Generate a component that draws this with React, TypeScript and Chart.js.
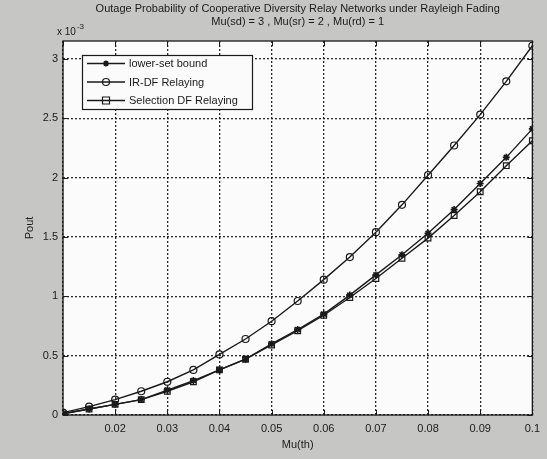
import React, { useEffect, useRef } from 'react';
import { Chart, registerables } from 'chart.js';

Chart.register(...registerables);

// ---- data (Pout in units of 1e-3) ----
const muTh = [0.01, 0.015, 0.02, 0.025, 0.03, 0.035, 0.04, 0.045, 0.05, 0.055, 0.06, 0.065, 0.07, 0.075, 0.08, 0.085, 0.09, 0.095, 0.1];
const lowerBound = [0.01, 0.05, 0.09, 0.13, 0.21, 0.29, 0.38, 0.47, 0.6, 0.72, 0.85, 1.01, 1.18, 1.35, 1.53, 1.73, 1.95, 2.17, 2.41];
const irDF = [0.02, 0.07, 0.13, 0.2, 0.28, 0.38, 0.51, 0.64, 0.79, 0.96, 1.14, 1.33, 1.54, 1.77, 2.02, 2.27, 2.53, 2.81, 3.11];
const selectionDF = [0.01, 0.05, 0.09, 0.13, 0.2, 0.28, 0.38, 0.47, 0.59, 0.71, 0.84, 0.99, 1.15, 1.32, 1.49, 1.68, 1.88, 2.1, 2.31];
const seriesNames = ['lower-set bound', 'IR-DF Relaying', 'Selection DF Relaying'];
const xTickValues = [0.01, 0.02, 0.03, 0.04, 0.05, 0.06, 0.07, 0.08, 0.09, 0.1];
const yTickValues = [0, 0.5, 1, 1.5, 2, 2.5, 3];
const titleText = 'Outage Probability of Cooperative Diversity Relay Networks under Rayleigh Fading';
const subtitleText = 'Mu(sd) = 3 , Mu(sr) = 2 , Mu(rd) = 1';
const xTitle = 'Mu(th)';
const yTitle = 'Pout';
const expBase = 'x 10';
const expPower = '-3';

const FONT = "'Liberation Sans', Arial, sans-serif";
const INK = '#1a1a1a';

function drawMarker(ctx: CanvasRenderingContext2D, style: string, x: number, y: number, r: number) {
  ctx.save();
  ctx.strokeStyle = INK;
  ctx.lineWidth = 1.2;
  ctx.beginPath();
  if (style === 'circle') {
    ctx.arc(x, y, r, 0, Math.PI * 2);
    ctx.stroke();
  } else if (style === 'rect') {
    ctx.rect(x - r, y - r, 2 * r, 2 * r);
    ctx.stroke();
  } else {
    ctx.lineWidth = 1.6;
    for (let k = 0; k < 4; k++) {
      const a = (k * Math.PI) / 4;
      ctx.moveTo(x - Math.cos(a) * r, y - Math.sin(a) * r);
      ctx.lineTo(x + Math.cos(a) * r, y + Math.sin(a) * r);
    }
    ctx.stroke();
  }
  ctx.restore();
}

const figurePlugin = {
  id: 'figurePlugin',
  beforeDraw(chart: any) {
    const { ctx, chartArea: a, width, height } = chart;
    ctx.save();
    ctx.fillStyle = '#c6c6c4';
    ctx.fillRect(0, 0, width, height);
    ctx.fillStyle = '#fbfbfb';
    ctx.fillRect(a.left, a.top, a.right - a.left, a.bottom - a.top);
    ctx.restore();
  },
  afterDraw(chart: any) {
    const { ctx, chartArea: a, scales } = chart;
    ctx.save();
    // inner tick marks
    ctx.strokeStyle = INK;
    ctx.lineWidth = 1;
    ctx.beginPath();
    xTickValues.forEach((v) => {
      const px = Math.round(scales.x.getPixelForValue(v)) + 0.5;
      ctx.moveTo(px, a.bottom); ctx.lineTo(px, a.bottom - 5);
      ctx.moveTo(px, a.top); ctx.lineTo(px, a.top + 5);
    });
    yTickValues.forEach((v) => {
      const py = Math.round(scales.y.getPixelForValue(v)) + 0.5;
      ctx.moveTo(a.left, py); ctx.lineTo(a.left + 5, py);
      ctx.moveTo(a.right, py); ctx.lineTo(a.right - 5, py);
    });
    ctx.stroke();
    // frame
    ctx.lineWidth = 1.3;
    ctx.strokeRect(a.left, a.top, a.right - a.left, a.bottom - a.top);

    // exponent label
    ctx.fillStyle = INK;
    ctx.textBaseline = 'alphabetic';
    ctx.textAlign = 'left';
    ctx.font = `10px ${FONT}`;
    ctx.fillText(expBase, a.left - 6, a.top - 6);
    const w = ctx.measureText(expBase).width;
    ctx.font = `8px ${FONT}`;
    ctx.fillText(expPower, a.left - 6 + w + 1, a.top - 12);

    // legend
    const bx = 82, by = 55, bw = 170, bh = 54;
    ctx.fillStyle = '#fbfbfb';
    ctx.fillRect(bx, by, bw, bh);
    ctx.strokeStyle = INK;
    ctx.lineWidth = 1.2;
    ctx.strokeRect(bx + 0.5, by + 0.5, bw, bh);
    const styles = ['star', 'circle', 'rect'];
    const rows = [63.5, 82, 100.5];
    ctx.font = `11px ${FONT}`;
    ctx.textBaseline = 'middle';
    rows.forEach((ry, i) => {
      ctx.beginPath();
      ctx.lineWidth = 1.4;
      ctx.moveTo(87, ry); ctx.lineTo(125, ry);
      ctx.stroke();
      drawMarker(ctx, styles[i], 106, ry, i === 0 ? 3 : 3.5);
      ctx.fillStyle = INK;
      ctx.fillText(seriesNames[i], 129, ry + 0.5);
    });
    ctx.restore();
  },
};

export default function App() {
  const ref = useRef<HTMLCanvasElement | null>(null);

  useEffect(() => {
    document.body.style.margin = '0';
    const canvas = ref.current;
    if (!canvas) return;
    const mk = (arr: number[]) => muTh.map((x, i) => ({ x, y: arr[i] }));
    const common = {
      borderColor: INK,
      borderWidth: 1.4,
      pointBorderColor: INK,
      pointBackgroundColor: 'rgba(0,0,0,0)',
      pointBorderWidth: 1.2,
      tension: 0,
      fill: false,
    };
    const chart = new Chart(canvas, {
      type: 'line',
      data: {
        datasets: [
          { ...common, label: seriesNames[0], data: mk(lowerBound), pointStyle: 'star', pointRadius: 3.5, pointBorderWidth: 1.6 },
          { ...common, label: seriesNames[1], data: mk(irDF), pointStyle: 'circle', pointRadius: 3.5 },
          { ...common, label: seriesNames[2], data: mk(selectionDF), pointStyle: 'rect', pointRadius: 4 },
        ],
      },
      options: {
        animation: false,
        responsive: false,
        events: [],
        layout: { padding: { left: 0, right: 14, top: 0, bottom: 0 } },
        plugins: {
          legend: { display: false },
          tooltip: { enabled: false },
          title: {
            display: true,
            text: titleText,
            fullSize: false,
            color: INK,
            font: { family: FONT, size: 11, weight: 'normal', lineHeight: 1.2 },
            padding: { top: 2, bottom: 0 },
          },
          subtitle: {
            display: true,
            text: subtitleText,
            fullSize: false,
            color: INK,
            font: { family: FONT, size: 11, weight: 'normal', lineHeight: 1.2 },
            padding: { top: 0, bottom: 12.6 },
          },
        },
        scales: {
          x: {
            type: 'linear',
            min: 0.01,
            max: 0.1,
            afterFit: (s: any) => { s.height = 44; },
            afterBuildTicks: (s: any) => { s.ticks = xTickValues.map((v) => ({ value: v })); },
            ticks: {
              color: INK,
              padding: 7,
              font: { family: FONT, size: 11 },
              maxRotation: 0,
              autoSkip: false,
              callback: (v: any) => (Math.abs(v - 0.01) < 1e-9 ? '' : String(Number(Number(v).toFixed(3)))),
            },
            grid: { color: 'rgba(20,20,20,0.9)', lineWidth: 1.3, drawTicks: false },
            border: { display: false, dash: [2, 2] },
            title: {
              display: true,
              text: xTitle,
              color: INK,
              font: { family: FONT, size: 11, lineHeight: 1.2 },
              padding: { top: 0, bottom: 7.4 },
            },
          },
          y: {
            type: 'linear',
            min: 0,
            max: 3.15,
            afterFit: (s: any) => { s.width = 63; },
            afterBuildTicks: (s: any) => { s.ticks = yTickValues.map((v) => ({ value: v })); },
            ticks: {
              color: INK,
              padding: 5,
              font: { family: FONT, size: 11 },
              autoSkip: false,
              callback: (v: any) => String(v),
            },
            grid: { color: 'rgba(20,20,20,0.9)', lineWidth: 1.3, drawTicks: false },
            border: { display: false, dash: [2, 2] },
            title: {
              display: true,
              text: yTitle,
              color: INK,
              font: { family: FONT, size: 11, lineHeight: 1.2 },
              padding: { top: 23.4, bottom: 0 },
            },
          },
        },
      },
      plugins: [figurePlugin],
    } as any);
    return () => chart.destroy();
  }, []);

  return (
    <div style={{ width: 547, height: 459 }}>
      <canvas ref={ref} width={547} height={459} />
    </div>
  );
}
